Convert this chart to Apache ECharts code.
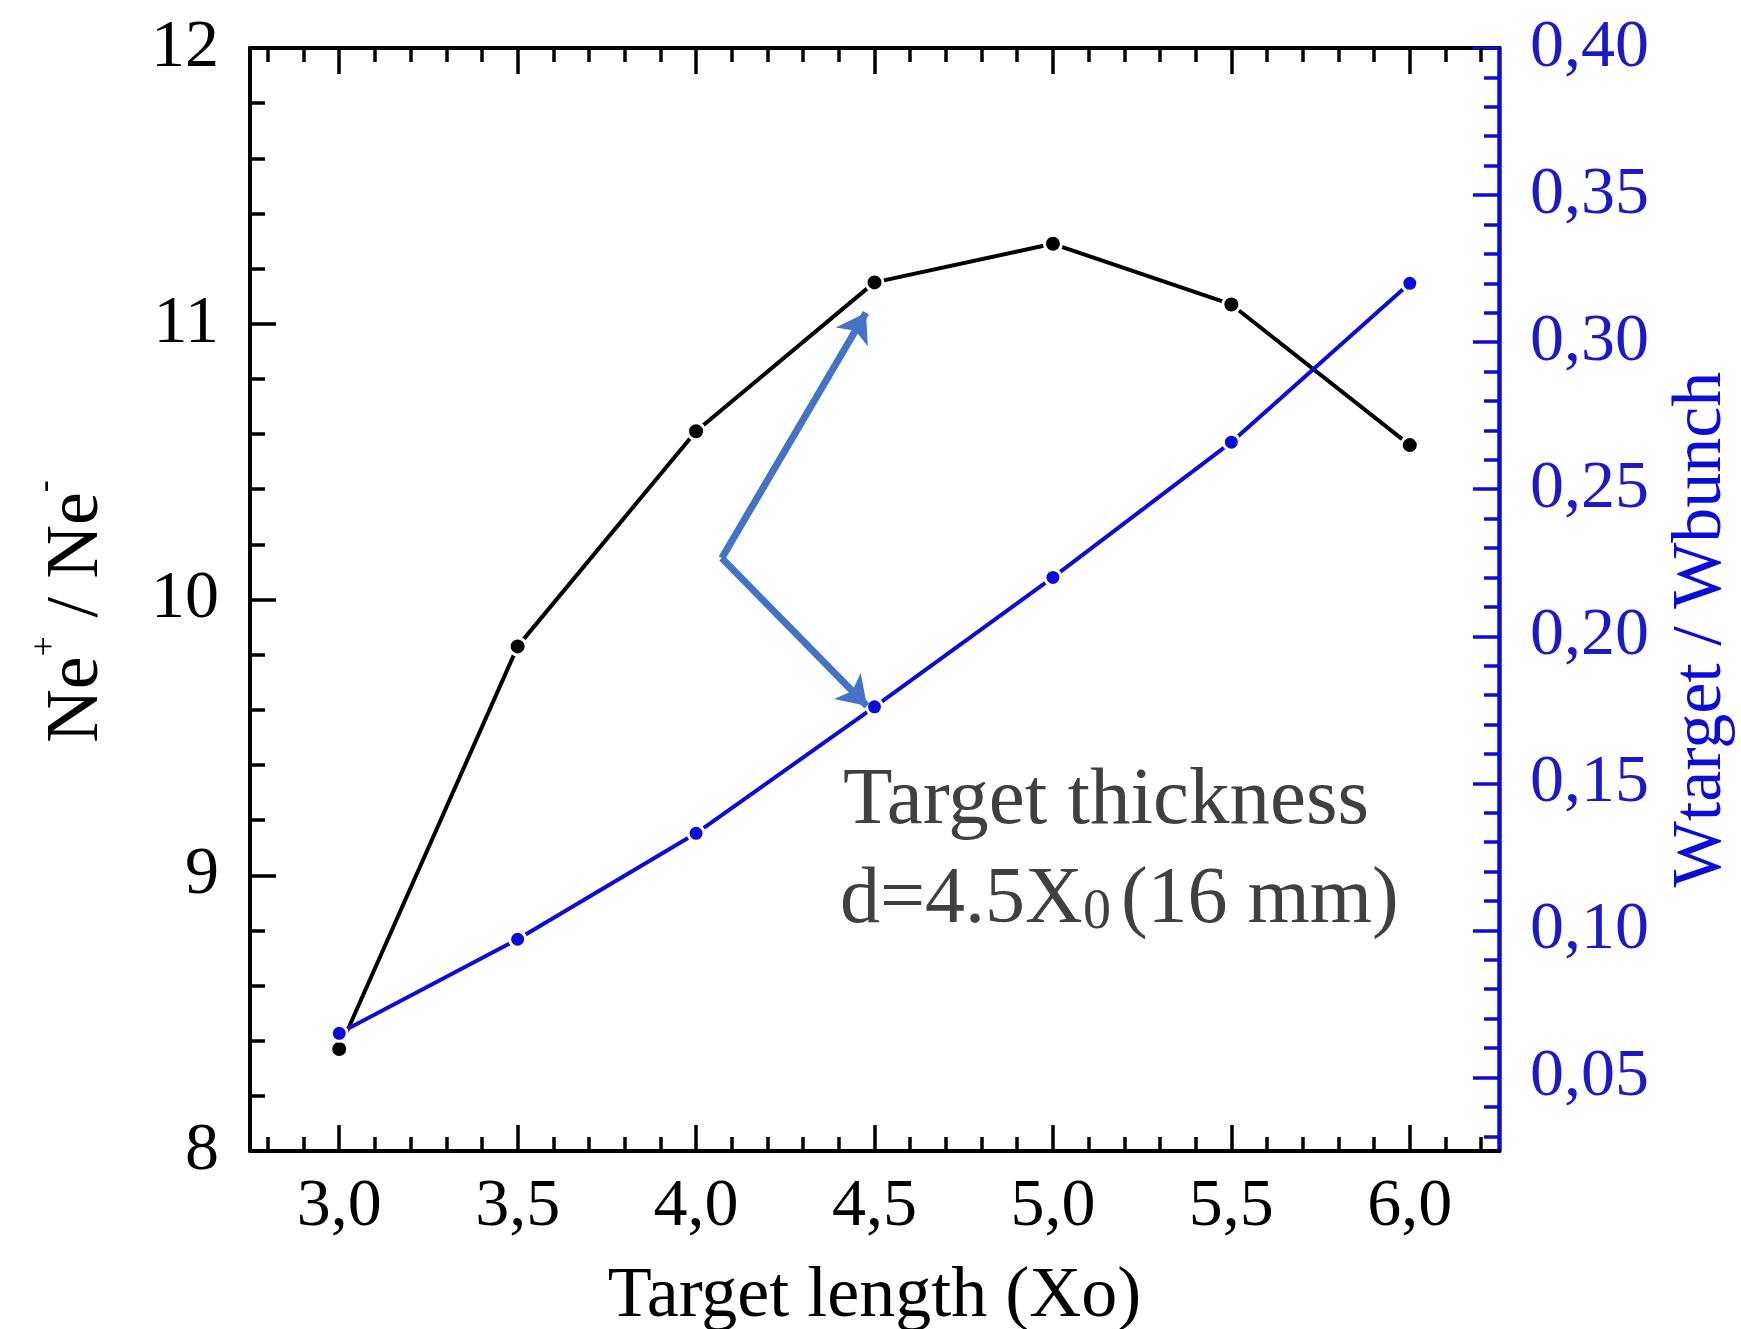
<!DOCTYPE html>
<html>
<head>
<meta charset="utf-8">
<title>Target length</title>
<script src="https://cdn.jsdelivr.net/npm/echarts@6/dist/echarts.min.js"></script>
<style>
    html, body { margin: 0; padding: 0; background: #fff; }
    #main { width: 1741px; height: 1329px; }
</style>
</head>
<body>
<div id="main"></div>
<script>
// 数据
var targetLength = [3.0, 3.5, 4.0, 4.5, 5.0, 5.5, 6.0];
var ratioNe = [8.37, 9.83, 10.61, 11.15, 11.29, 11.07, 10.56];
var wRatio = [0.065, 0.097, 0.133, 0.176, 0.220, 0.266, 0.320];

// 刻度
var xTicks = [3.0, 3.5, 4.0, 4.5, 5.0, 5.5, 6.0];
var rightTicks = [0.05, 0.10, 0.15, 0.20, 0.25, 0.30, 0.35, 0.40];

// 箭头 (坐标为数据值)
var arrowFrom = [4.072, 10.15];
var arrowToTop = [4.476, 11.04];
var arrowToBlue = [4.479, 9.614];

var fontFam = "'Liberation Serif', 'Times New Roman', serif";
var blue = '#0c0cd8';

// 次刻度
function minorValues(from, to, step, major) {
    var out = [];
    var n = Math.round((to - from) / step);
    for (var i = 0; i <= n; i++) {
        var v = Math.round((from + i * step) * 1000) / 1000;
        if (Math.abs(v / major - Math.round(v / major)) > 1e-6) out.push(v);
    }
    return out;
}
var xMinor = minorValues(2.8, 6.2, 0.1, 0.5);
var rightMinor = minorValues(0.03, 0.39, 0.01, 0.05);

var myChart = echarts.init(document.getElementById('main'));

function xAxisCfg(pos, ticks, len, showLine, showLabel) {
    return {
        type: 'value', position: pos, min: 2.75, max: 6.25,
        axisLine: { show: showLine, onZero: false, lineStyle: { color: '#000', width: 4 } },
        axisTick: { show: true, inside: true, length: len, customValues: ticks, lineStyle: { color: '#000', width: 3.5 } },
        axisLabel: {
            show: showLabel, customValues: ticks, margin: 22,
            color: '#000', fontSize: 68, fontFamily: fontFam,
            formatter: function (v) { return v.toFixed(1).replace('.', ','); }
        },
        splitLine: { show: false }
    };
}

var option = {
    backgroundColor: '#fff',
    animation: false,
    grid: { left: 250, right: 242, top: 48, bottom: 178, containLabel: false, outerBoundsMode: 'none' },
    xAxis: [
        Object.assign(xAxisCfg('bottom', xTicks, 26, true, true), {
            name: 'Target length (Xo)', nameLocation: 'middle', nameGap: 110,
            nameTextStyle: { color: '#000', fontSize: 72, fontFamily: fontFam }
        }),
        xAxisCfg('top', xTicks, 26, true, false),
        xAxisCfg('bottom', xMinor, 14, false, false),
        xAxisCfg('top', xMinor, 14, false, false)
    ],
    yAxis: [
        {
            type: 'value', position: 'left', min: 8, max: 12, interval: 1,
            name: '{m|Ne}{s|+}{m| / Ne}{s|-}', nameLocation: 'middle', nameGap: 122,
            nameTextStyle: {
                lineHeight: 100,
                padding: [0, 24, 0, 0],
                rich: {
                    m: { fontSize: 74, fontFamily: fontFam, color: '#000', lineHeight: 100 },
                    s: { fontSize: 36, fontFamily: fontFam, color: '#000', verticalAlign: 'top', lineHeight: 36 }
                }
            },
            axisLine: { show: true, onZero: false, lineStyle: { color: '#000', width: 4 } },
            axisTick: { show: true, inside: true, length: 26, lineStyle: { color: '#000', width: 3.5 } },
            minorTick: { show: true, splitNumber: 5, length: 15, lineStyle: { color: '#000', width: 3.5 } },
            axisLabel: { color: '#000', fontSize: 68, fontFamily: fontFam, margin: 31 },
            splitLine: { show: false },
            minorSplitLine: { show: false }
        },
        {
            type: 'value', position: 'right', min: 0.025, max: 0.40,
            name: 'Wtarget / Wbunch', nameLocation: 'middle', nameGap: 168,
            nameTextStyle: { color: blue, fontSize: 70, fontFamily: fontFam, padding: [0, 60, 0, 0] },
            axisLine: { show: true, onZero: false, lineStyle: { color: blue, width: 4.5 } },
            axisTick: { show: true, inside: true, length: 26, customValues: rightTicks, lineStyle: { color: blue, width: 3.5 } },
            axisLabel: {
                customValues: rightTicks, color: '#1a1ac8', fontSize: 68, fontFamily: fontFam, margin: 31,
                formatter: function (v) { return v.toFixed(2).replace('.', ','); }
            },
            splitLine: { show: false }
        },
        {
            type: 'value', position: 'right', min: 0.025, max: 0.40,
            axisLine: { show: false },
            axisTick: { show: true, inside: true, length: 15, customValues: rightMinor, lineStyle: { color: blue, width: 3.5 } },
            axisLabel: { show: false },
            splitLine: { show: false }
        }
    ],
    graphic: [
        {
            type: 'text', x: 843, y: 802, z: 10,
            style: { text: 'Target thickness', fill: '#404040', fontSize: 81, fontFamily: fontFam, align: 'left', verticalAlign: 'middle' }
        },
        {
            type: 'text', x: 840, y: 901, z: 10,
            style: {
                text: '{n|d=4.5X}{s|0}{n|(16 mm)}', align: 'left', verticalAlign: 'middle',
                rich: {
                    n: { fontSize: 80, fontFamily: fontFam, fill: '#404040', lineHeight: 80 },
                    s: { fontSize: 56, fontFamily: fontFam, fill: '#404040', verticalAlign: 'bottom', padding: [0, 10, 0, 0] }
                }
            }
        }
    ],
    series: [
        {
            name: 'Ne+/Ne-',
            type: 'line',
            xAxisIndex: 0,
            yAxisIndex: 0,
            data: targetLength.map(function (x, i) { return [x, ratioNe[i]]; }),
            symbol: 'circle',
            symbolSize: 17,
            lineStyle: { color: '#000', width: 4 },
            itemStyle: { color: '#000', borderColor: '#fff', borderWidth: 3 },
            z: 3,
            markLine: {
                silent: true,
                symbol: ['none', 'arrow'],
                symbolSize: 28,
                label: { show: false },
                lineStyle: { color: '#4472c4', width: 7, type: 'solid' },
                emphasis: { disabled: true },
                data: [
                    [{ coord: arrowFrom }, { coord: arrowToTop }],
                    [{ coord: arrowFrom }, { coord: arrowToBlue }]
                ]
            }
        },
        {
            name: 'Wtarget/Wbunch',
            type: 'line',
            xAxisIndex: 0,
            yAxisIndex: 1,
            data: targetLength.map(function (x, i) { return [x, wRatio[i]]; }),
            symbol: 'circle',
            symbolSize: 16,
            lineStyle: { color: blue, width: 4 },
            itemStyle: { color: blue, borderColor: '#fff', borderWidth: 3 },
            z: 4
        }
    ]
};

myChart.setOption(option);
</script>
</body>
</html>
